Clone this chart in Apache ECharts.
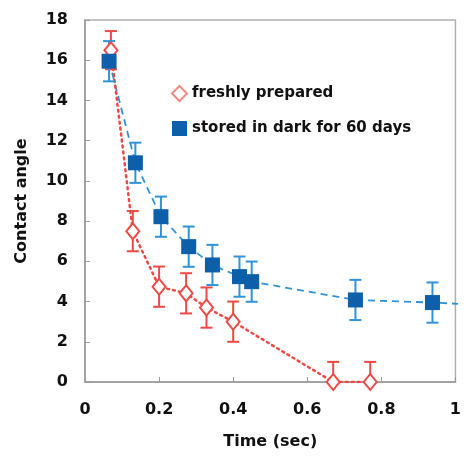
<!DOCTYPE html>
<html><head><meta charset="utf-8">
<script src="https://cdn.jsdelivr.net/npm/echarts@6/dist/echarts.min.js"></script>
<style>html,body{margin:0;padding:0;background:#fff}#c{width:464px;height:460px}</style>
</head><body><div id="c"></div>
<script>
// Freshly prepared: [time, angle]
const freshX = [0.07, 0.129, 0.20, 0.273, 0.328, 0.40, 0.67, 0.77];
const freshY = [16.5, 7.5, 4.74, 4.41, 3.70, 3.0, 0, 0];
const freshErr = [0.95, 1.0, 1.0, 1.0, 1.0, 1.0, 1.0, 1.0];
// Stored in dark for 60 days
const darkX = [0.065, 0.136, 0.205, 0.28, 0.344, 0.417, 0.45, 0.73, 0.938];
const darkY = [15.95, 10.9, 8.22, 6.73, 5.82, 5.24, 4.99, 4.08, 3.95];
const darkErr = [1.0, 1.0, 1.0, 1.0, 1.0, 1.0, 1.0, 1.0, 1.0];
// dashed trend line continues past the last point to the image edge
const darkTrendEnd = [1.016, 3.88];
const xTicks = [0, 0.2, 0.4, 0.6, 0.8, 1];
const yTicks = [0, 2, 4, 6, 8, 10, 12, 14, 16, 18];

const RED = '#ec4a45', BLUE = '#0c5fa8', LBLUE = '#2f93d8';
const fresh = freshX.map((x, i) => [x, freshY[i]]);
const dark = darkX.map((x, i) => [x, darkY[i]]);
const freshE = freshX.map((x, i) => [x, Math.max(0, freshY[i] - freshErr[i]), freshY[i] + freshErr[i]]);
const darkE = darkX.map((x, i) => [x, darkY[i] - darkErr[i], darkY[i] + darkErr[i]]);

function errRender(color) {
  return function (params, api) {
    const x = api.value(0), lo = api.value(1), hi = api.value(2);
    const a = api.coord([x, lo]), b = api.coord([x, hi]);
    const w = 6, st = { stroke: color, lineWidth: 2 };
    const ch = [
      { type: 'line', shape: { x1: a[0], y1: a[1], x2: b[0], y2: b[1] }, style: st },
      { type: 'line', shape: { x1: b[0] - w, y1: b[1], x2: b[0] + w, y2: b[1] }, style: st }
    ];
    if (lo > 0) ch.push({ type: 'line', shape: { x1: a[0] - w, y1: a[1], x2: a[0] + w, y2: a[1] }, style: st });
    return { type: 'group', children: ch };
  };
}

const font = 'DejaVu Sans, sans-serif';
const chart = echarts.init(document.getElementById('c'), null, { renderer: 'canvas' });
chart.setOption({
  animation: false,
  backgroundColor: '#fff',
  grid: { left: 85, top: 20, right: 6, bottom: 78, show: true, borderColor: '#b0b0b0', borderWidth: 1.5 },
  legend: {
    orient: 'vertical', left: 166, top: 80, itemGap: 19, itemWidth: 15, itemHeight: 15,
    textStyle: { fontFamily: font, fontWeight: 'bold', fontSize: 15, color: '#111' },
    data: [
      { name: 'freshly prepared', icon: 'diamond', itemStyle: { color: '#fff', borderColor: '#f08a80', borderWidth: 2 } },
      { name: 'stored in dark for 60 days', icon: 'rect', itemStyle: { color: BLUE } }
    ]
  },
  xAxis: {
    type: 'value', min: 0, max: 1, interval: 0.2,
    name: 'Time (sec)', nameLocation: 'middle', nameGap: 52,
    nameTextStyle: { fontFamily: font, fontWeight: 'bold', fontSize: 16, color: '#111' },
    axisLine: { lineStyle: { color: '#999', width: 1.5 } },
    axisTick: { inside: true, length: 5, lineStyle: { color: '#999' } },
    splitLine: { show: false },
    axisLabel: { margin: 20, fontFamily: font, fontWeight: 'bold', fontSize: 16, color: '#111',
      formatter: v => { const t = xTicks.find(k => Math.abs(k - v) < 1e-9); return t === undefined ? '' : String(t); } }
  },
  yAxis: {
    type: 'value', min: 0, max: 18, interval: 2,
    name: 'Contact angle', nameLocation: 'middle', nameGap: 55,
    nameTextStyle: { fontFamily: font, fontWeight: 'bold', fontSize: 16, color: '#111' },
    axisLine: { show: true, lineStyle: { color: '#999', width: 1.5 } },
    axisTick: { show: true, inside: true, length: 5, lineStyle: { color: '#999' } },
    splitLine: { show: false },
    axisLabel: { margin: 17, fontFamily: font, fontWeight: 'bold', fontSize: 16, color: '#111',
      formatter: v => { const t = yTicks.find(k => Math.abs(k - v) < 1e-9); return t === undefined ? '' : String(t); } }
  },
  series: [
    { name: 'darkTrend', type: 'line', data: dark.concat([darkTrendEnd]), symbol: 'none', clip: false,
      lineStyle: { color: LBLUE, width: 1.8, type: [7, 5] }, z: 1, silent: true },
    { name: 'freshLine', type: 'line', data: fresh, symbol: 'none',
      lineStyle: { color: RED, width: 2.5, type: [2, 4], cap: 'round' }, z: 1, silent: true },
    { name: 'freshErr', type: 'custom', data: freshE, renderItem: errRender(RED), z: 2, silent: true },
    { name: 'darkErr', type: 'custom', data: darkE, renderItem: errRender(LBLUE), z: 2, silent: true },
    { name: 'freshly prepared', type: 'scatter', data: fresh, symbol: 'diamond', symbolSize: [13, 16],
      itemStyle: { color: '#fff', borderColor: RED, borderWidth: 2, opacity: 1 }, z: 3 },
    { name: 'stored in dark for 60 days', type: 'scatter', data: dark, symbol: 'rect', symbolSize: 15,
      itemStyle: { color: BLUE, opacity: 1 }, z: 4 }
  ]
});
</script></body></html>
